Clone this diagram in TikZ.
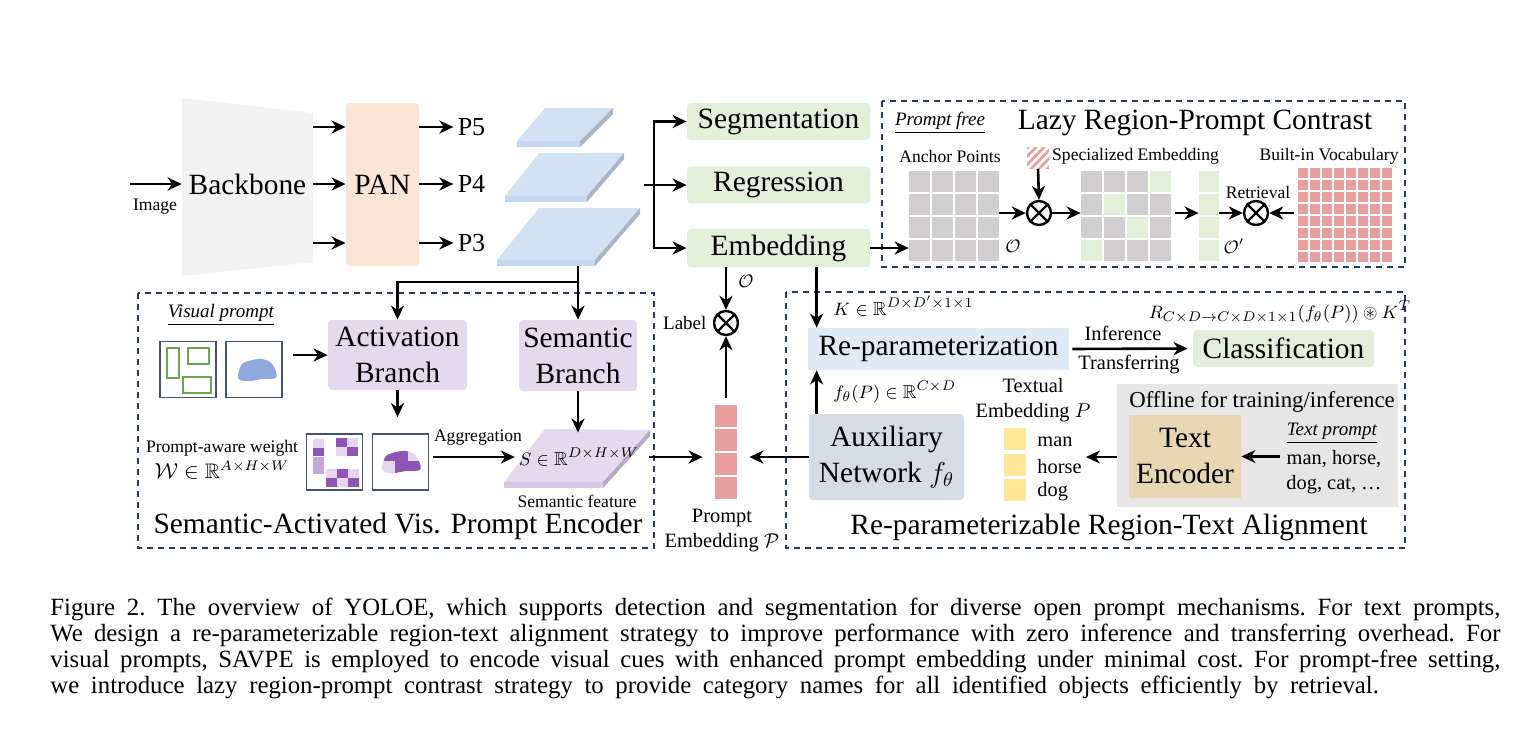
\documentclass[tikz,border=0pt]{standalone}
\usepackage{amsmath,amssymb}
\usepackage{fontspec}
\setmainfont{Liberation Serif}
\usetikzlibrary{calc,positioning,arrows.meta,patterns}

\definecolor{navy}{HTML}{2A3A5A}
\definecolor{bbgray}{HTML}{F2F2F2}
\definecolor{panpeach}{HTML}{FBE5D6}
\definecolor{slabtop}{HTML}{D2E2F2}
\definecolor{slabfront}{HTML}{C3D7EE}
\definecolor{slabside}{HTML}{A9B6C4}
\definecolor{headgreen}{HTML}{E2F0D9}
\definecolor{cellgray}{HTML}{D0CECE}
\definecolor{vocpink}{HTML}{E89E9E}
\definecolor{lav}{HTML}{E4DAEE}
\definecolor{lavfront}{HTML}{D8CAE6}
\definecolor{lavside}{HTML}{B8A8CA}
\definecolor{pdark}{HTML}{8E56B4}
\definecolor{pmid}{HTML}{C4A8DC}
\definecolor{plight}{HTML}{E3D6EE}
\definecolor{slate}{HTML}{44546A}
\definecolor{rectgreen}{HTML}{6AA84F}
\definecolor{blobblue}{HTML}{8FAADC}
\definecolor{repblue}{HTML}{DEEBF7}
\definecolor{auxgray}{HTML}{D6DCE5}
\definecolor{offgray}{HTML}{E7E6E6}
\definecolor{enctan}{HTML}{E8D7B2}
\definecolor{yel}{HTML}{FFE699}

\begin{document}
\begin{tikzpicture}[x=0.5pt, y=-0.5pt,
  every node/.style={inner sep=0pt},
  arr/.style={-{Stealth[length=7pt, width=6.5pt, inset=2.2pt]}, line width=1.3pt},
  big/.style={font=\fontsize{14.7}{18}\selectfont},
  plbl/.style={font=\fontsize{13}{15}\selectfont, inner sep=2pt},
  mid/.style={font=\fontsize{10.2}{12.5}\selectfont},
  lbl/.style={font=\fontsize{9.5}{11}\selectfont},
  small/.style={font=\fontsize{8.8}{12}\selectfont},
  box/.style={rounded corners=2pt, big, align=center},
  headbox/.style={box, fill=headgreen, minimum width=91.5pt, minimum height=18.5pt},
  frame/.style={draw=navy, dash pattern=on 3pt off 2.5pt, line width=1pt},
  otimes/.style={circle, draw, line width=1.2pt, minimum size=12pt},
  imgbox/.style={draw=slate, line width=0.9pt, minimum width=28pt, minimum height=28pt}]
\useasboundingbox[fill=white] (0,0) rectangle (1529,735);

% frames
\draw[frame] (882,101) rectangle (1405,267);
\draw[frame] (138,293) rectangle (654,548);
\draw[frame] (786,292) rectangle (1405,548);

% backbone and PAN
\fill[bbgray] (182,98) -- (313,113) -- (313,262) -- (182,276) -- cycle;
\node[big, minimum width=65.5pt, minimum height=75pt] (bb) at (247.5,184) {Backbone};
\coordinate (img) at (130,184);
\draw[arr] (img) -- (bb.west);
\node[small] (imglbl) at (155,207) {Image};
\node[box, fill=panpeach, minimum width=36.5pt, minimum height=81.5pt] (pan) at (382.5,184.5) {PAN};
\node[plbl] (p5) at (471.5,127) {P5};
\node[plbl] (p4) at (471.5,184) {P4};
\node[plbl] (p3) at (471.5,243) {P3};
\foreach \p in {p5,p4,p3}{
  \draw[arr] (bb.east |- \p) -- (pan.west |- \p);
  \draw[arr] (pan.east |- \p) -- (\p.west);
}

% feature maps
\foreach \bl/\br/\tl/\tr/\yt/\yb in {517/580/545/613/108/141, 505/587/539/624/153/196, 497/595/539/640/208/260}{
  \fill[slabtop] (\bl,\yb) -- (\br,\yb) -- (\tr,\yt) -- (\tl,\yt) -- cycle;
  \fill[slabfront] (\bl,\yb) rectangle (\br,\yb+6);
  \fill[slabside] (\br,\yb) -- (\tr,\yt) -- (\tr,\yt+6) -- (\br,\yb+6) -- cycle;
}

% heads
\node[headbox] (seg) at (778.5,121.5) {Segmentation};
\node[headbox] (reg) at (778.5,185) {Regression};
\node[headbox, minimum height=19pt] (emb) at (778.5,248) {Embedding};
\coordinate (neck) at (644,185);
\coordinate (fork) at (654,185);
\draw[line width=1.3pt] (neck) -- (fork);
\draw[arr] (fork) |- (seg.west);
\draw[arr] (fork) -- (reg.west);
\draw[arr] (fork) |- (emb.west);

% lazy region-prompt contrast
\node[big] (lazy) at (1195,123) {Lazy Region-Prompt Contrast};
\node[lbl] (pfree) at (940,123) {\underline{\textit{Prompt free}}};
\node[small] (anclbl) at (950,156) {Anchor Points};
\node[small] (speclbl) at (1135.5,156) {Specialized Embedding};
\node[small] (voclbl) at (1329,156) {Built-in Vocabulary};
\foreach \i in {0,...,3}{\foreach \j in {0,...,3}{
  \fill[cellgray] (909+23*\i,171+23*\j) rectangle ++(20.5,20.5);
  \fill[cellgray] (1081+23*\i,171+23*\j) rectangle ++(20.5,20.5);}}
\foreach \i/\j in {3/0,1/1,2/2,0/3}
  \fill[headgreen] (1081+23*\i,171+23*\j) rectangle ++(20.5,20.5);
\foreach \j in {0,...,3}
  \fill[headgreen] (1199,171+23*\j) rectangle ++(20,20.5);
\foreach \i in {0,...,7}{\foreach \j in {0,...,7}{
  \fill[vocpink] (1298+12*\i,168+12*\j) rectangle ++(10,10);}}
\node[minimum width=44.75pt, minimum height=44.75pt] (anc) at (953.75,215.75) {};
\node[minimum width=44.75pt, minimum height=44.75pt] (spe) at (1125.75,215.75) {};
\node[minimum width=10pt, minimum height=44.75pt] (col) at (1209,215.75) {};
\node[minimum width=47pt, minimum height=47pt] (voc) at (1345,215) {};
\node[small] (o1) at (1013,246) {$\mathcal{O}$};
\node[small] (o2) at (1234,246) {$\mathcal{O}'$};
\node[otimes] (ox1) at (1039,213) {};
\node[otimes] (ox2) at (1256,213) {};
\draw[line width=1.2pt] (ox1.north east) -- (ox1.south west) (ox1.north west) -- (ox1.south east);
\draw[line width=1.2pt] (ox2.north east) -- (ox2.south west) (ox2.north west) -- (ox2.south east);
\node[small] (retr) at (1258,192) {Retrieval};
\node[fill=vocpink, minimum size=11pt] (spec) at (1038,157.5) {};
\begin{scope}
  \clip (1027,147) rectangle (1049,168);
  \foreach \k in {-24,-16,...,24}
    \draw[white, line width=1.4pt] (1038+\k-14,172) -- (1038+\k+14,143);
\end{scope}
\draw[arr] (spec.south) -- (ox1.north);
\draw[arr] (emb.east) -- (anc.west |- emb);
\draw[arr] (anc.east |- ox1) -- (ox1.west);
\draw[arr] (ox1.east) -- (spe.west |- ox1);
\draw[arr, shorten <=2pt] (spe.east |- ox1) -- (col.west |- ox1);
\draw[arr] (col.east |- ox2) -- (ox2.west);
\draw[arr, shorten <=2pt] (voc.west |- ox2) -- (ox2.east);

% semantic-activated visual prompt encoder
\node[big] (savpe) at (398,526) {Semantic-Activated Vis. Prompt Encoder};
\coordinate (s3b) at (578,266);
\coordinate (split) at (578,282);
\node[box, fill=lav, minimum width=69.5pt, minimum height=35pt] (act) at (397.5,355) {Activation\\Branch};
\node[box, fill=lav, minimum width=59pt, minimum height=35.5pt] (sem) at (578,355.5) {Semantic\\Branch};
\draw[arr] (s3b) -- (sem.north);
\draw[arr] (split) -| (act.north);
\node[lbl] (vplbl) at (221,315) {\underline{\textit{Visual prompt}}};
\node[imgbox] (vp1) at (188,369.5) {};
\node[imgbox] (vp2) at (254,369.5) {};
\draw[rectgreen, line width=0.8pt] (167,348) rectangle (179,378);
\draw[rectgreen, line width=0.8pt] (188,348) rectangle (209,364);
\draw[rectgreen, line width=0.8pt] (183,377) rectangle (211,393);
\fill[blobblue] plot[smooth cycle] coordinates {(238,375) (242,364) (252,360) (262,359) (270,362) (275,369) (276,378) (262,379) (250,381) (240,380)};
\draw[arr, shorten <=5pt] (vp2.east |- act) -- (act.west);
\node[imgbox] (w1) at (334.5,462) {};
\node[imgbox] (w2) at (400.5,462) {};
\foreach \x/\y/\col in {313/439/plight, 313/447.5/pdark, 313/456.5/pmid, 313/465/pmid,
  336/438/pdark, 347/438/plight, 336/447/plight, 347/447/pdark,
  326/469/plight, 337/469/pdark, 348/469/plight, 326/478/pdark, 337/478/plight, 348/478/pdark}
  \fill[\col] (\x,\y) rectangle ++(11,8.5);
\begin{scope}[shift={(144,92)}]
  \clip plot[smooth cycle] coordinates {(238,375) (242,364) (252,360) (262,359) (270,362) (275,369) (276,378) (262,379) (250,381) (240,380)};
  \fill[pdark] (236,357) rectangle (251,369);
  \fill[pdark] (251,357) rectangle (264,369);
  \fill[plight] (264,357) rectangle (278,369);
  \fill[plight] (236,369) rectangle (251,383);
  \fill[pdark] (251,369) rectangle (264,383);
  \fill[pdark] (264,369) rectangle (278,383);
\end{scope}
\node[small, align=center] (paw) at (222,460) {Prompt-aware weight\\[1pt]{\fontsize{10.5}{12}\selectfont$\mathcal{W}\in\mathbb{R}^{A\times H\times W}$}};
\fill[lav] (504,482) -- (603,482) -- (650,430) -- (545,429) -- cycle;
\fill[lavfront] (504,482) rectangle (603,488);
\fill[lavside] (603,482) -- (650,430) -- (650,436) -- (603,488) -- cycle;
\node[lbl, inner sep=2pt] (sfeat) at (579,457) {$S\in\mathbb{R}^{D\times H\times W}$};
\node[small] (sflbl) at (577,501) {Semantic feature};
\draw[arr, shorten >=8pt] (act.south) -- (act.south |- w2.north);
\draw[arr, shorten >=5.5pt] (sem.south) -- (sem.south |- sfeat.north);
\node[small] (agg) at (478,438) {Aggregation};
\draw[arr, shorten <=2pt] (w2.east |- sfeat) -- (sfeat.west);

% prompt embedding and label
\foreach \j in {0,...,3}
  \fill[vocpink] (715,405+24*\j) rectangle ++(22,22);
\node[minimum width=11pt, minimum height=47pt] (pe) at (726,452) {};
\node[mid, align=center] (pelbl) at (722,531) {Prompt\\Embedding $\mathcal{P}$};
\node[otimes] (lab) at (726,323) {};
\draw[line width=1.2pt] (lab.north east) -- (lab.south west) (lab.north west) -- (lab.south east);
\node[lbl] (lablbl) [left=3pt of lab] {Label};
\node[lbl] (o3) at (746,281) {$\mathcal{O}$};
\draw[arr] (lab |- emb.south) -- (lab.north);
\draw[arr, shorten <=3.5pt] (pe.north) -- (lab.south);
\draw[arr, shorten <=3pt, shorten >=6pt] (sfeat.east) -- (pe.west |- sfeat);

% re-parameterizable region-text alignment
\node[big] (rrta) at (1109,527) {Re-parameterizable Region-Text Alignment};
\node[box, fill=repblue, rounded corners=0pt, minimum width=130.5pt, minimum height=21pt] (rep) at (938.5,349) {Re-parameterization};
\node[box, fill=headgreen, minimum width=90.5pt, minimum height=18.5pt] (cls) at (1283.5,348.5) {Classification};
\node[box, fill=auxgray, minimum width=77.5pt, minimum height=43pt] (aux) at (886.5,457) {Auxiliary\\Network $f_\theta$};
\node[fill=offgray, minimum width=140.5pt, minimum height=61.5pt] (off) at (1257.5,445.5) {};
\node[box, fill=enctan, rounded corners=0pt, minimum width=56pt, minimum height=41.5pt] (enc) at (1185,456.5) {Text\\Encoder};
\node[font=\fontsize{11.4}{13}\selectfont] (offlbl) at (1262,402) {Offline for training/inference};
\node[lbl] (tplbl) at (1332,433) {\underline{\textit{Text prompt}}};
\node[mid, align=center] (tpx) at (1334,472) {man, horse,\\dog, cat, \ldots};
\node[lbl, anchor=west] (klbl) at (833,306) {$K\in\mathbb{R}^{D\times D'\times1\times1}$};
\node[lbl, anchor=west] (flbl) at (833,392) {$f_\theta(P)\in\mathbb{R}^{C\times D}$};
\node[lbl] (formula) at (1280,312) {$R_{C\times D\rightarrow C\times D\times1\times1}(f_\theta(P))\circledast K^{T}$};
\draw[arr] ([xshift=4.5pt]rep.north west |- emb.south) -- ([xshift=4.5pt]rep.north west);
\draw[arr] ([xshift=4pt]aux.north west) -- ([xshift=4pt]aux.north west |- rep.south);
\draw[arr, shorten <=1.5pt, shorten >=2.5pt] (rep.east) -- (cls.west);
\node[mid] (inf) at (1123,333) {Inference};
\node[mid] (trf) at (1129,365) {Transferring};
\node[mid, align=center] (telbl) at (1033,400) {Textual\\Embedding $P$};
\foreach \j in {0,...,2}
  \fill[yel] (1004,428+25.5*\j) rectangle ++(22,22);
\node[mid, anchor=west] (man) at (1037,442) {man};
\node[mid, anchor=west] (horse) at (1037,467) {horse};
\node[mid, anchor=west] (dog) at (1037,492) {dog};
\draw[arr, shorten >=6pt] (aux.west) -- (pe.east |- aux);
\draw[arr] (off.west |- aux) -- ([xshift=2pt]horse.east |- aux);
\draw[arr, shorten <=3pt] (tpx.west |- enc) -- (enc.east);

% caption
\node[anchor=north west, text width=725pt, align=justify, font=\fontsize{12.4}{13}\selectfont] (cap) at (50,598) {\frenchspacing\spaceskip=0.47em plus 0.2em minus 0.12em Figure 2. The overview of YOLOE, which supports detection and segmentation for diverse open prompt mechanisms. For text prompts,\linebreak We design a re-parameterizable region-text alignment strategy to improve performance with zero inference and transferring overhead. For\linebreak visual prompts, SAVPE is employed to encode visual cues with enhanced prompt embedding under minimal cost. For prompt-free setting,\linebreak we introduce lazy region-prompt contrast strategy to provide category names for all identified objects efficiently by retrieval.};
\end{tikzpicture}
\end{document}
